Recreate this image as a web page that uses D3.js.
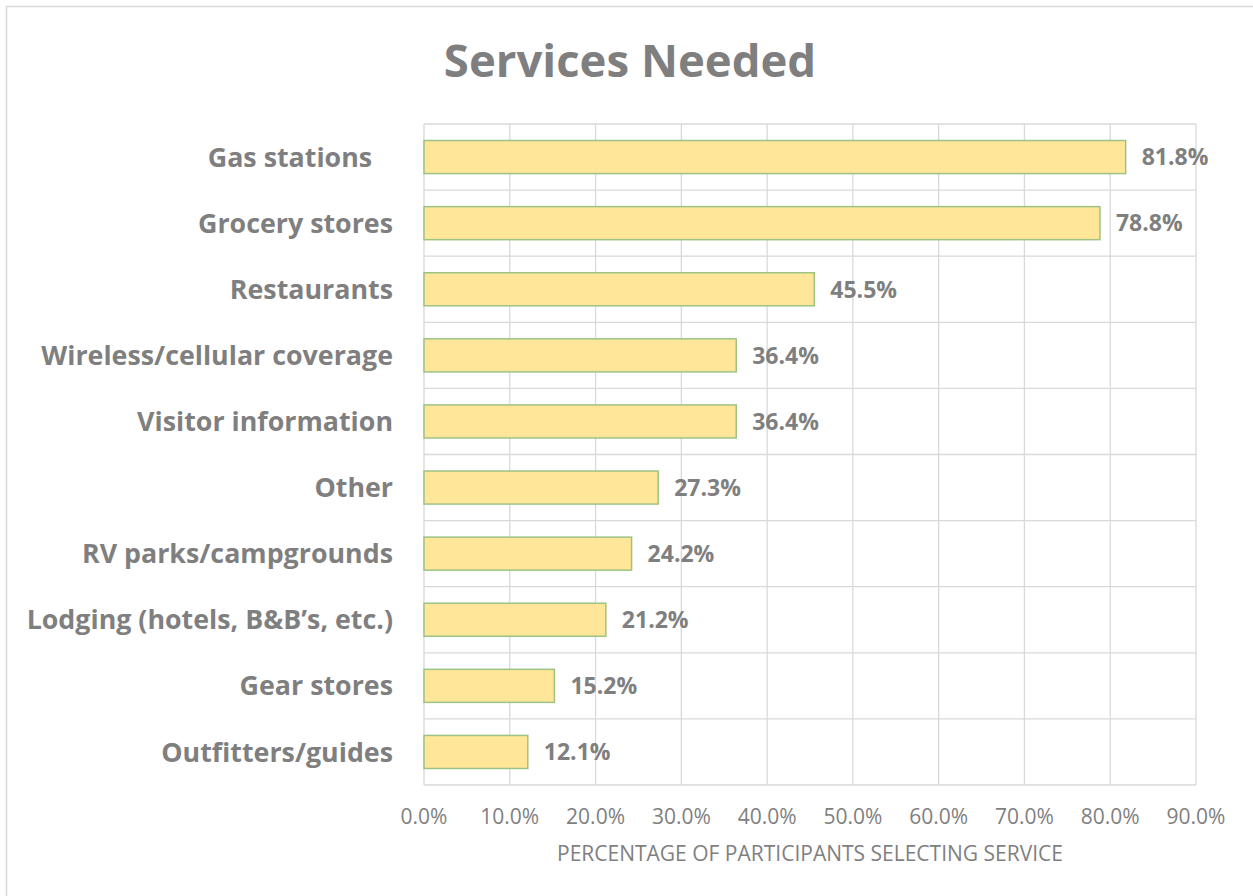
<!DOCTYPE html>
<html><head><meta charset="utf-8">
<script src="https://cdn.jsdelivr.net/npm/d3@7"></script>
<style>
body{margin:0;background:#fff;}
svg text{font-family:"Open Sans",sans-serif;fill:#7f7f7f;white-space:pre;}
</style></head>
<body><svg id="c" width="1253" height="896"></svg>
<script>
const categories = ["Gas stations   ","Grocery stores","Restaurants","Wireless/cellular coverage","Visitor information","Other","RV parks/campgrounds","Lodging (hotels, B&B’s, etc.)","Gear stores","Outfitters/guides"];
const values = [81.8,78.8,45.5,36.4,36.4,27.3,24.2,21.2,15.2,12.1];
const ticks = [0,10,20,30,40,50,60,70,80,90];
const title = "Services Needed";
const axisTitle = "PERCENTAGE OF PARTICIPANTS SELECTING SERVICE";

const svg = d3.select("#c");
svg.append("rect").attr("x",6.5).attr("y",6.5).attr("width",1260).attr("height",900)
  .attr("fill","none").attr("stroke","#d9d9d9").attr("stroke-width",1.5);
const m = {l:424,t:124,r:1196,b:785};
const x = d3.scaleLinear().domain([0,90]).range([m.l,m.r]);
const y = d3.scaleBand().domain(categories).range([m.t,m.b]).paddingInner(0.5).paddingOuter(0.25);
const yb = d3.scaleBand().domain(categories).range([m.t,m.b]);

const g = svg.append("g");
g.selectAll(".vg").data(ticks).join("line")
  .attr("x1",d=>x(d)).attr("x2",d=>x(d)).attr("y1",m.t).attr("y2",m.b)
  .attr("stroke","#d9d9d9").attr("stroke-width",1.3);
const hb = categories.map(c=>yb(c)).concat([m.b]);
g.selectAll(".hg").data(hb).join("line")
  .attr("x1",m.l).attr("x2",m.r).attr("y1",d=>d).attr("y2",d=>d)
  .attr("stroke","#d9d9d9").attr("stroke-width",1.3);

g.selectAll(".bar").data(values).join("rect")
  .attr("x",x(0)).attr("y",(d,i)=>y(categories[i]))
  .attr("width",d=>x(d)-x(0)).attr("height",y.bandwidth())
  .attr("fill","#FFE699").attr("stroke","#9DC384").attr("stroke-width",1.5);

g.selectAll(".vl").data(values).join("text")
  .attr("x",d=>x(d)+16).attr("y",(d,i)=>y(categories[i])+y.bandwidth()/2)
  .attr("dy","0.36em").attr("font-size",23).attr("font-weight","bold")
  .text(d=>d.toFixed(1)+"%");

g.selectAll(".cl").data(categories).join("text")
  .attr("x",393).attr("y",d=>y(d)+y.bandwidth()/2).attr("dy","0.36em")
  .attr("text-anchor","end").attr("font-size",26.8).attr("font-weight","bold")
  .text(d=>d);

g.selectAll(".tl").data(ticks).join("text")
  .attr("x",d=>x(d)).attr("y",824).attr("text-anchor","middle").attr("font-size",21)
  .text(d=>d.toFixed(1)+"%");

svg.append("text").attr("x",810).attr("y",861).attr("text-anchor","middle")
  .attr("font-size",21).text(axisTitle);
svg.append("text").attr("x",630).attr("y",77).attr("text-anchor","middle")
  .attr("font-size",45.5).attr("font-weight","bold").text(title);
</script></body></html>
